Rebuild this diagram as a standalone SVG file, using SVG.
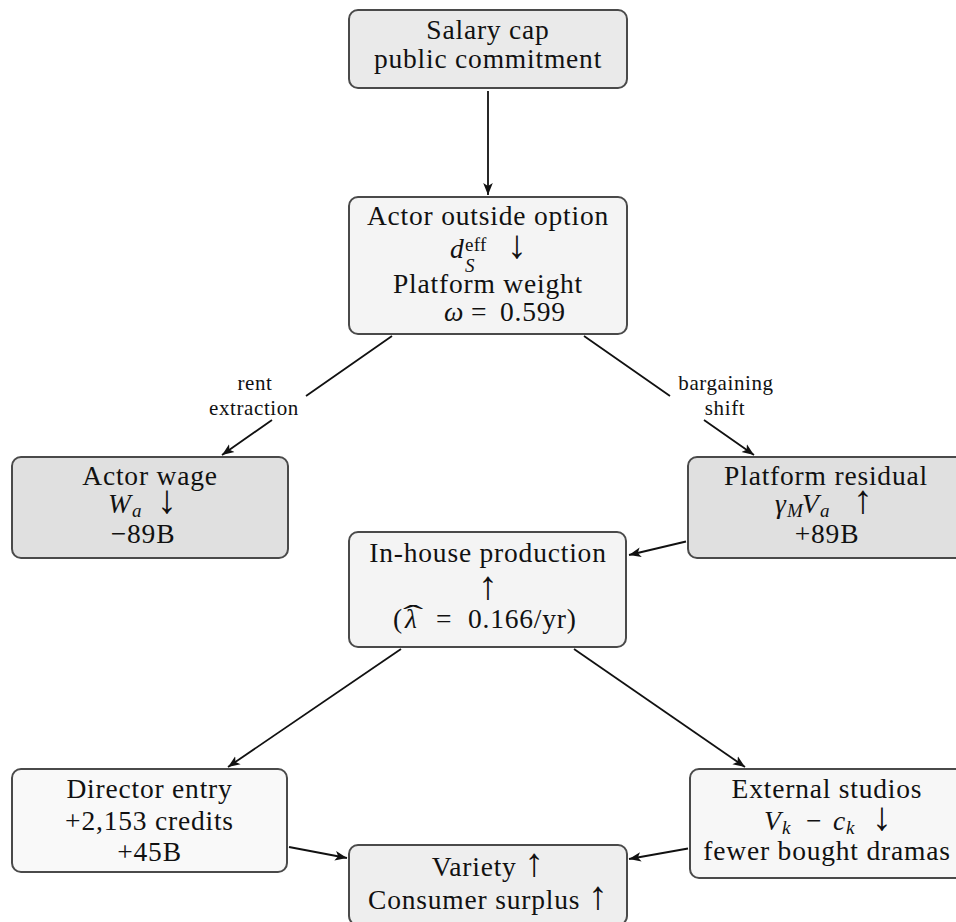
<svg xmlns="http://www.w3.org/2000/svg" width="956" height="922" viewBox="0 0 956 922">
<defs>
<marker id="ah" markerUnits="userSpaceOnUse" markerWidth="13" markerHeight="11" viewBox="0 -5.5 13 11" refX="12" refY="0" orient="auto">
<path d="M0,-4.8 L12,0 L0,4.8 L3,0 Z" fill="#111"/>
</marker>
</defs>
<style>
.box{stroke:#4a4a4a;stroke-width:2}
text{font-family:"Liberation Serif","Times New Roman",serif;font-size:27.5px;letter-spacing:0.8px;fill:#111}
.c{text-anchor:middle}
.i{font-style:italic}
.s{font-size:19px;letter-spacing:0.3px}
.ar{font-size:40px;letter-spacing:0}
.lbl{font-size:21px;letter-spacing:0.6px;text-anchor:middle}
.edge{fill:none;stroke:#111;stroke-width:1.8;marker-end:url(#ah)}
</style>
<rect width="956" height="922" fill="#fff"/>

<g id="connectors">
<path class="edge" d="M488,91 L488,195"/>
<path class="edge" d="M392,336 L306,396 M272,420 L222,455"/>
<path class="edge" d="M584,336 L670,396 M704,420 L754,455"/>
<path class="edge" d="M686,541.5 L629,555"/>
<path class="edge" d="M401,649 L228,767"/>
<path class="edge" d="M574,649 L745,767"/>
<path class="edge" d="M289,847 L347,858"/>
<path class="edge" d="M688,848.5 L629,859"/>
</g>

<g id="labels">
<text class="lbl" x="255" y="390">rent</text>
<text class="lbl" x="254" y="415">extraction</text>
<text class="lbl" x="726" y="390">bargaining</text>
<text class="lbl" x="725" y="415">shift</text>
</g>

<g id="salary-cap">
<rect class="box" x="349" y="10" width="278" height="78" rx="9" fill="#eaeaea"/>
<text class="c" x="488" y="39">Salary cap</text>
<text class="c" x="488" y="68">public commitment</text>
</g>

<g id="actor-outside-option">
<rect class="box" x="349" y="197" width="278" height="137" rx="9" fill="#f4f4f4"/>
<text class="c" x="488" y="225">Actor outside option</text>
<text x="450" y="258"><tspan class="i">d</tspan><tspan class="s" x="465" dy="-7">eff</tspan><tspan class="s i" x="465" dy="21">S</tspan><tspan class="ar" x="507" dy="-14">↓</tspan></text>
<text class="c" x="488" y="293">Platform weight</text>
<text x="444" y="321"><tspan class="i">ω</tspan><tspan x="471">=</tspan><tspan x="500">0.599</tspan></text>
</g>

<g id="actor-wage">
<rect class="box" x="12" y="457" width="276" height="101" rx="9" fill="#e0e0e0"/>
<text class="c" x="150" y="485">Actor wage</text>
<text x="108" y="513"><tspan class="i">W</tspan><tspan class="s i" x="132" dy="4">a</tspan><tspan class="ar" x="157" dy="-4">↓</tspan></text>
<text class="c" x="143" y="543">−89B</text>
</g>

<g id="platform-residual">
<rect class="box" x="688" y="457" width="276" height="101" rx="9" fill="#e0e0e0"/>
<text class="c" x="826" y="485">Platform residual</text>
<text x="775" y="513"><tspan class="i">γ</tspan><tspan class="s i" x="787" dy="4">M</tspan><tspan class="i" x="802" dy="-4">V</tspan><tspan class="s i" x="820" dy="4">a</tspan><tspan class="ar" x="853" dy="-4">↑</tspan></text>
<text class="c" x="827" y="543">+89B</text>
</g>

<g id="in-house-production">
<rect class="box" x="349" y="532" width="277" height="115" rx="9" fill="#f4f4f4"/>
<text class="c" x="488" y="562">In-house production</text>
<text class="c ar" x="488" y="599">↑</text>
<text x="393" y="628">(<tspan class="i" x="405">λ</tspan><tspan x="436">=</tspan><tspan x="468">0.166/yr)</tspan></text>
<text class="c" transform="translate(414,624) scale(2.2,1)" x="0" y="0">ˆ</text>
</g>

<g id="director-entry">
<rect class="box" x="12" y="769" width="275" height="103" rx="9" fill="#f9f9f9"/>
<text class="c" x="149.5" y="798">Director entry</text>
<text class="c" x="149.5" y="830">+2,153 credits</text>
<text class="c" x="149.5" y="861">+45B</text>
</g>

<g id="external-studios">
<rect class="box" x="690" y="769" width="276" height="109" rx="9" fill="#f7f7f7"/>
<text class="c" x="827" y="798">External studios</text>
<text x="764" y="830"><tspan class="i">V</tspan><tspan class="s i" x="782" dy="4">k</tspan><tspan x="806" dy="-4">−</tspan><tspan class="i" x="833">c</tspan><tspan class="s i" x="846" dy="4">k</tspan><tspan class="ar" x="872" dy="-4">↓</tspan></text>
<text class="c" x="827" y="860">fewer bought dramas</text>
</g>

<g id="variety">
<rect class="box" x="349" y="845" width="278" height="80" rx="9" fill="#eeeeee"/>
<text class="c" x="488" y="876">Variety <tspan class="ar">↑</tspan></text>
<text class="c" x="488" y="909">Consumer surplus <tspan class="ar">↑</tspan></text>
</g>
</svg>
